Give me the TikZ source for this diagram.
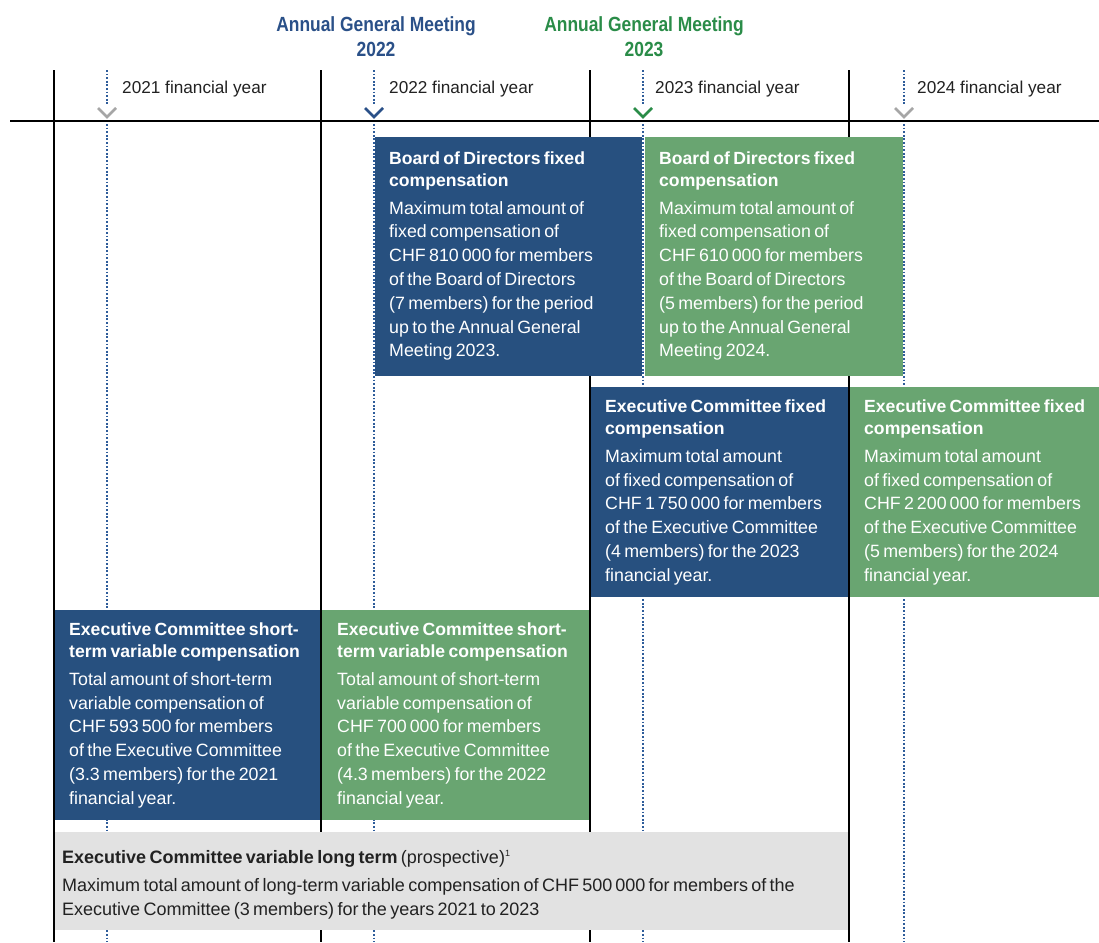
\documentclass[tikz,border=0pt]{standalone}
\usepackage{fontspec}
\setmainfont{Liberation Sans}
\newfontfamily\hdrfont{Liberation Sans}[FakeStretch=0.85]
\setlength\parindent{0pt}
\definecolor{navybox}{HTML}{27507F}
\definecolor{greenbox}{HTML}{69A571}
\definecolor{navyhdr}{HTML}{2A5088}
\definecolor{greenhdr}{HTML}{2A8C48}
\definecolor{graybox}{HTML}{E2E2E2}
\definecolor{dotblue}{HTML}{2E5C9A}
\definecolor{chevgray}{HTML}{A6A6A6}
\definecolor{ink}{HTML}{222222}
\newcommand\ttl{\fontsize{17.6}{22.4}\selectfont\bfseries}
\newcommand\bdy{\fontsize{17.8}{23.8}\selectfont}
\newcommand\boxtext[2]{{\ttl #1\par}\vspace{3.5pt}{\bdy #2\par}}
\tikzset{
  gridline/.style={line width=1.6pt, black},
  dotline/.style={line width=2.3pt, dotblue, dash pattern=on 1.8pt off 1.8pt},
  chev/.style={line width=2.6pt},
  panel/.style={draw=none, inner sep=0pt, outer sep=0pt, anchor=north west},
  ptext/.style={anchor=base west, inner sep=0pt, text width=#1, align=left, text=white},
  ptext/.default=260pt,
  yearlabel/.style={anchor=base west, inner sep=0pt, text=ink, font=\fontsize{17.2}{20}\selectfont},
  agm/.style={anchor=base, inner sep=0pt, align=center, font=\hdrfont\bfseries\fontsize{20.5}{25}\selectfont}
}
\begin{document}
\begin{tikzpicture}[x=1pt,y=-1pt]
\useasboundingbox (0,0) rectangle (1099,942);
\fill[white] (0,0) rectangle (1099,942);

% period boundaries
\coordinate (h0) at (10,121);
\coordinate (h1) at (1099,121);
\draw[gridline] (h0) -- (h1);
\foreach \x/\n in {54/a,321/b,590/c,849/d}{
  \coordinate (v\n t) at (\x,70);
  \coordinate (v\n b) at (\x,942);
  \draw[gridline] (v\n t) -- (v\n b);
}
% meeting markers (dotted)
\foreach \x/\n in {107/a,374/b,643/c,904/d}{
  \coordinate (m\n t) at (\x,70);
  \coordinate (m\n b) at (\x,942);
  \draw[dotline] (m\n t) -- (m\n b);
}
% chevrons
\fill[white] (97,104) rectangle (117,119);
\fill[white] (364,104) rectangle (384,119);
\fill[white] (633,104) rectangle (653,119);
\fill[white] (894,104) rectangle (914,119);
\draw[chev, chevgray] (98,108) -- (107,117) -- (116,108);
\draw[chev, navyhdr] (365,108) -- (374,117) -- (383,108);
\draw[chev, greenhdr] (634,108) -- (643,117) -- (652,108);
\draw[chev, chevgray] (895,108) -- (904,117) -- (913,108);
\draw[gridline] (h0) -- (h1);

% headers
\node[agm, text=navyhdr] (agm22) at (376,56.5) {Annual General Meeting\\2022};
\node[agm, text=greenhdr] (agm23) at (644,56.5) {Annual General Meeting\\2023};

% year labels
\node[yearlabel] (fy21) at (122,93) {2021 financial year};
\node[yearlabel] (fy22) at (389,93) {2022 financial year};
\node[yearlabel] (fy23) at (655,93) {2023 financial year};
\node[yearlabel] (fy24) at (917,93) {2024 financial year};

% panels
\node[panel, fill=navybox, minimum width=267pt, minimum height=239pt] (bod22) at (375,137) {};
\node[panel, fill=greenbox, minimum width=258pt, minimum height=239pt] (bod23) at (645,137) {};
\node[panel, fill=navybox, minimum width=257pt, minimum height=210pt] (exf23) at (591,387) {};
\node[panel, fill=greenbox, minimum width=249pt, minimum height=210pt] (exf24) at (850,387) {};
\node[panel, fill=navybox, minimum width=265pt, minimum height=210pt] (stv21) at (55,610) {};
\node[panel, fill=greenbox, minimum width=267pt, minimum height=210pt] (stv22) at (322,610) {};
\node[panel, fill=graybox, minimum width=793pt, minimum height=98pt] (ltv) at (55,832) {};

% panel texts
\node[ptext] (tbod22) at (389,164.3) {\boxtext{Board of Directors fixed\\compensation}{Maximum total amount of\\fixed compensation of\\CHF 810\,000 for members\\of the Board of Directors\\(7 members) for the period\\up to the Annual General\\Meeting 2023.}};
\node[ptext] (tbod23) at (659,164.3) {\boxtext{Board of Directors fixed\\compensation}{Maximum total amount of\\fixed compensation of\\CHF 610\,000 for members\\of the Board of Directors\\(5 members) for the period\\up to the Annual General\\Meeting 2024.}};
\node[ptext] (texf23) at (605,412.5) {\boxtext{Executive Committee fixed\\compensation}{Maximum total amount\\of fixed compensation of\\CHF 1\,750\,000 for members\\of the Executive Committee\\(4 members) for the 2023\\financial year.}};
\node[ptext] (texf24) at (864,412.5) {\boxtext{Executive Committee fixed\\compensation}{Maximum total amount\\of fixed compensation of\\CHF 2\,200\,000 for members\\of the Executive Committee\\(5 members) for the 2024\\financial year.}};
\node[ptext] (tstv21) at (69,635.5) {\boxtext{Executive Committee short-\\term variable compensation}{Total amount of short-term\\variable compensation of\\CHF 593\,500 for members\\of the Executive Committee\\(3.3 members) for the 2021\\financial year.}};
\node[ptext] (tstv22) at (337,635.5) {\boxtext{Executive Committee short-\\term variable compensation}{Total amount of short-term\\variable compensation of\\CHF 700\,000 for members\\of the Executive Committee\\(4.3 members) for the 2022\\financial year.}};
\node[ptext=780pt, text=ink] (tltv) at (62,863) {{\fontsize{18}{24}\selectfont\textbf{Executive Committee variable long term} (prospective)\textsuperscript{\fontsize{9}{9}\selectfont 1}\par}\vspace{4pt}{\fontsize{18}{24}\selectfont Maximum total amount of long-term variable compensation of CHF 500\,000 for members of the\\Executive Committee (3 members) for the years 2021 to 2023\par}};
\end{tikzpicture}
\end{document}
